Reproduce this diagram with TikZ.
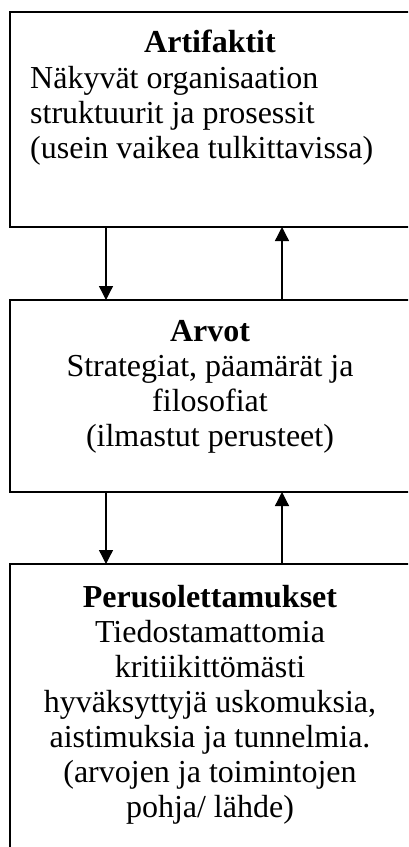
\documentclass[tikz,border=0pt]{standalone}
\usepackage{fontspec}
\setmainfont{Liberation Serif}
\usetikzlibrary{arrows.meta,positioning}
\tikzset{
  box/.style={minimum width=440pt, inner sep=0pt, outer sep=0pt},
  edge/.style={line width=1.3pt},
  txt/.style={font=\fontsize{32}{35}\selectfont, inner sep=0pt, align=center},
  link/.style={line width=1.3pt, -{Triangle[width=14pt,length=14pt]}},
}
\begin{document}
\begin{tikzpicture}[x=1pt,y=-1pt]
  \useasboundingbox (0,0) rectangle (408,847);
  \clip (0,0) rectangle (408,847);
  % the three levels (right side lies outside the picture)
  \node[box, minimum height=215pt] (art) at (230,119.5) {};
  \node[box, minimum height=192pt] (arv) at (230,396) {};
  \node[box, minimum height=320pt] (per) at (230,724) {};
  \foreach \b in {art,arv,per}
    \draw[edge] (\b.north east) -- (\b.north west) -- (\b.south west) -- (\b.south east);
  \node[txt, font=\fontsize{32}{35}\selectfont\bfseries, anchor=north] (arthead) at (210,30) {Artifaktit};
  \node[txt, align=left, anchor=north west] (artbody) at (30,66)
    {N\"akyv\"at organisaation\\ struktuurit ja prosessit\\
     (usein vaikea tulkittavissa)};
  \node[txt, anchor=north] (arvtxt) at (210,320)
    {\textbf{Arvot}\\ Strategiat, p\"aam\"ar\"at ja\\ filosofiat\\
     (ilmastut perusteet)};
  \node[txt, anchor=north] (pertxt) at (210,585)
    {\textbf{Perusolettamukset}\\ Tiedostamattomia\\ kritiikitt\"om\"asti\\
     hyv\"aksyttyj\"a uskomuksia,\\ aistimuksia ja tunnelmia.\\
     (arvojen ja toimintojen\\ pohja/ l\"ahde)};
  % arrows
  \coordinate (dnx) at (106,0);
  \coordinate (upx) at (282,0);
  \draw[link] (art.south -| dnx) -- (arv.north -| dnx);
  \draw[link] (arv.north -| upx) -- (art.south -| upx);
  \draw[link] (arv.south -| dnx) -- (per.north -| dnx);
  \draw[link] (per.north -| upx) -- (arv.south -| upx);
\end{tikzpicture}
\end{document}
